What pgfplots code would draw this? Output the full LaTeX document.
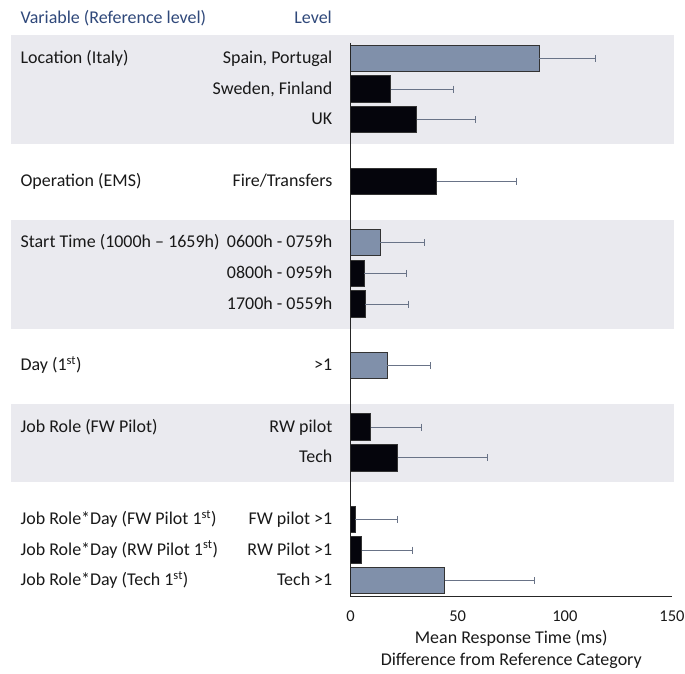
\documentclass[border=0pt]{standalone}
\usepackage{pgfplots}
\pgfplotsset{compat=1.18}
\usepackage{fontspec}
\setmainfont{Carlito}
\definecolor{slate}{RGB}{128,144,170}
\definecolor{blackbar}{RGB}{5,5,12}
\definecolor{band}{RGB}{234,234,239}
\definecolor{errc}{RGB}{105,115,135}
\definecolor{hdr}{RGB}{47,72,122}
\definecolor{txt}{RGB}{25,25,25}
\begin{document}
\fontsize{18}{21}\selectfont
\begin{tikzpicture}
\useasboundingbox (-351pt,-77pt) rectangle (335pt,597pt);
\begin{axis}[
  at={(0,0)}, anchor=south west,
  scale only axis, width=322pt, height=554pt,
  xmin=0, xmax=150, ymin=-0.5, ymax=17.5, y dir=reverse,
  axis x line=bottom, axis y line=left,
  axis line style={-, line width=1.1pt, color=black!85},
  axis on top, clip=false,
  xtick={0,50,100,150}, major tick length=0pt,
  /pgf/number format/assume math mode=true,
  xticklabel style={font=\fontsize{16.5}{20}\selectfont, text=txt, yshift=-8pt},
  ytick={0,1,2,4,6,7,8,10,12,13,15,16,17},
  yticklabels={{Spain, Portugal},{Sweden, Finland},UK,Fire/Transfers,0600h - 0759h,0800h - 0959h,1700h - 0559h,>1,RW pilot,Tech,FW pilot >1,RW Pilot >1,Tech >1},
  yticklabel style={font=\fontsize{18}{21}\selectfont, text=txt, anchor=east, inner sep=0pt, xshift=-18pt, text height=1.6ex, text depth=0.4ex},
  xlabel={Mean Response Time (ms)\\Difference from Reference Category},
  xlabel style={align=center, font=\fontsize{18}{22}\selectfont, text=txt, yshift=3pt},
  xbar, bar width=0.86, bar shift=0pt,
  error bars/x dir=plus, error bars/x explicit,
  error bars/error mark=|,
  error bars/error bar style={color=errc, line width=0.9pt},
  error bars/error mark options={mark size=3.5pt, line width=1pt, color=errc, rotate=0},
]
\fill[band] (axis cs:-158.6,-0.75) rectangle (axis cs:150.7,2.8);
\fill[band] (axis cs:-158.6,5.25) rectangle (axis cs:150.7,8.8);
\fill[band] (axis cs:-158.6,11.25) rectangle (axis cs:150.7,13.8);

\addplot[fill=slate, draw=black!80, line width=1pt, bar shift=0pt] coordinates {
  (88,0) +- (26.2,0)
  (14,6) +- (20.3,0)
  (17.1,10) +- (20.1,0)
  (43.9,17) +- (42.1,0)
};
\addplot[fill=blackbar, draw=black!80, line width=1pt, bar shift=0pt] coordinates {
  (18.9,1) +- (29,0)
  (30.9,2) +- (27.6,0)
  (40.3,4) +- (37.2,0)
  (6.5,7) +- (19.4,0)
  (7,8) +- (20.1,0)
  (9.5,12) +- (23.5,0)
  (22,13) +- (41.9,0)
  (2.3,15) +- (19.6,0)
  (5.3,16) +- (23.7,0)
};

\begin{scope}[every node/.style={font=\fontsize{18}{21}\selectfont, text=txt, anchor=west, inner sep=0pt, text height=1.6ex, text depth=0.4ex}]
\node at (axis cs:-154,0) {Location (Italy)};
\node at (axis cs:-154,4) {Operation (EMS)};
\node at (axis cs:-154,6) {Start Time (1000h – 1659h)};
\node at (axis cs:-154,10) {Day (1\textsuperscript{st})};
\node at (axis cs:-154,12) {Job Role (FW Pilot)};
\node at (axis cs:-154,15) {Job Role*Day (FW Pilot 1\textsuperscript{st})};
\node at (axis cs:-154,16) {Job Role*Day (RW Pilot 1\textsuperscript{st})};
\node at (axis cs:-154,17) {Job Role*Day (Tech 1\textsuperscript{st})};
\node[text=hdr] at (axis cs:-154,-1.3) {Variable (Reference level)};
\node[text=hdr, anchor=east] at (axis cs:-8.6,-1.3) {Level};
\end{scope}
\end{axis}
\end{tikzpicture}
\end{document}
